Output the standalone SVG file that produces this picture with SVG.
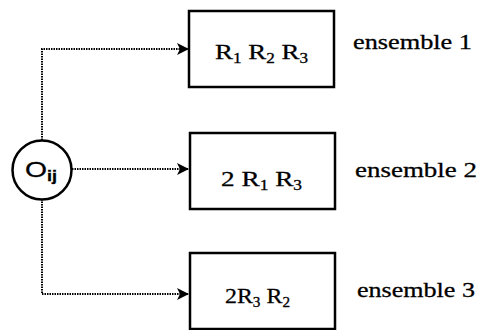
<svg xmlns="http://www.w3.org/2000/svg" width="480" height="330" viewBox="0 0 480 330">
<style>
.box{fill:#fff;stroke:#000;stroke-width:2.5}
.conn{fill:none;stroke:#000;stroke-width:2;stroke-dasharray:1.5 1}
.t{font-family:"Liberation Serif","Times New Roman",serif;font-size:22px;fill:#000;stroke:#000;stroke-width:0.3}
.sub{font-size:14px}
</style>
<defs>
<marker id="ah" viewBox="0 0 12 12" refX="11" refY="6" markerWidth="12" markerHeight="12" markerUnits="userSpaceOnUse" orient="auto">
<path d="M0,0 L12,6 L0,12 L3,6 Z" fill="#000"/>
</marker>
</defs>
<g id="connectors">
<path class="conn" d="M42,140 V49 H188" marker-end="url(#ah)"/>
<path class="conn" d="M72,169 H188" marker-end="url(#ah)"/>
<path class="conn" d="M42,199 V294 H188" marker-end="url(#ah)"/>
</g>
<g id="node-O">
<circle cx="42" cy="170" r="29.5" fill="#fff" stroke="#000" stroke-width="2.5"/>
<text class="t" x="25" y="177" textLength="32" lengthAdjust="spacingAndGlyphs" style="font-family:'Liberation Sans','DejaVu Sans',sans-serif">O<tspan class="sub" dy="4" font-weight="bold">ij</tspan></text>
</g>
<g id="node-1">
<rect class="box" x="189" y="11" width="145" height="76"/>
<text class="t" x="215" y="59" textLength="93" lengthAdjust="spacingAndGlyphs">R<tspan class="sub" dy="4">1</tspan><tspan dy="-4"> R</tspan><tspan class="sub" dy="4">2</tspan><tspan dy="-4"> R</tspan><tspan class="sub" dy="4">3</tspan></text>
</g>
<g id="node-2">
<rect class="box" x="190" y="133" width="145" height="76"/>
<text class="t" x="221" y="186" textLength="81" lengthAdjust="spacingAndGlyphs">2 R<tspan class="sub" dy="4">1</tspan><tspan dy="-4"> R</tspan><tspan class="sub" dy="4">3</tspan></text>
</g>
<g id="node-3">
<rect class="box" x="190" y="253" width="145" height="76"/>
<text class="t" x="225" y="303" textLength="65" lengthAdjust="spacingAndGlyphs">2R<tspan class="sub" dy="4">3</tspan><tspan dy="-4"> R</tspan><tspan class="sub" dy="4">2</tspan></text>
</g>
<g id="labels">
<text class="t" x="353" y="49" textLength="119" lengthAdjust="spacingAndGlyphs">ensemble 1</text>
<text class="t" x="355" y="177" textLength="122" lengthAdjust="spacingAndGlyphs">ensemble 2</text>
<text class="t" x="357" y="297" textLength="118" lengthAdjust="spacingAndGlyphs">ensemble 3</text>
</g>
</svg>
